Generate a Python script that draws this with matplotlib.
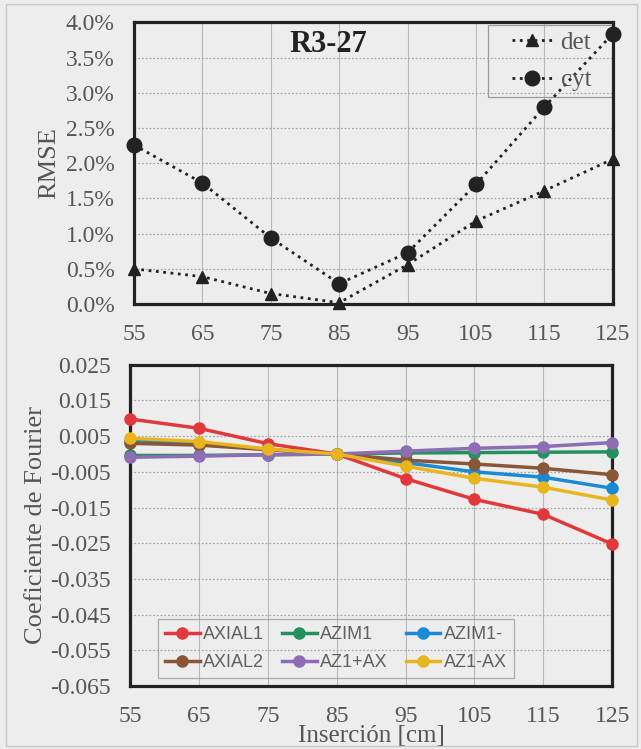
import matplotlib
matplotlib.use("Agg")
import matplotlib.pyplot as plt
from matplotlib.ticker import FuncFormatter

plt.rcParams['font.family'] = ['Liberation Serif', 'DejaVu Serif']
plt.rcParams['axes.unicode_minus'] = False

# datos
insercion = [55, 65, 75, 85, 95, 105, 115, 125]

rmse_det = [0.0050, 0.0039, 0.0015, 0.0002, 0.0056, 0.0118, 0.0161, 0.0206]
rmse_cyt = [0.0226, 0.0172, 0.0094, 0.0029, 0.0073, 0.0170, 0.0280, 0.0384]

axial1 = [0.0098, 0.0072, 0.0029, 0.0000, -0.0069, -0.0127, -0.0169, -0.0252]
azim1 = [-0.0004, -0.0004, -0.0002, 0.0000, 0.0003, 0.0004, 0.0005, 0.0006]
azim1m = [0.0037, 0.0030, 0.0013, 0.0000, -0.0024, -0.0050, -0.0065, -0.0096]
axial2 = [0.0030, 0.0025, 0.0012, 0.0000, -0.0017, -0.0028, -0.0040, -0.0058]
az1_ax_p = [-0.0009, -0.0006, -0.0002, 0.0000, 0.0008, 0.0016, 0.0021, 0.0032]
az1_ax_m = [0.0044, 0.0035, 0.0014, 0.0000, -0.0034, -0.0068, -0.0093, -0.0129]

series_names = ['AXIAL1', 'AZIM1', 'AZIM1-', 'AXIAL2', 'AZ1+AX', 'AZ1-AX']
series_values = [axial1, azim1, azim1m, axial2, az1_ax_p, az1_ax_m]
series_colors = ['#e2383c', '#23915f', '#1a8bd2', '#8a5638', '#8d6db3', '#e8b61c']

rmse_ticks = [0.0, 0.005, 0.010, 0.015, 0.020, 0.025, 0.030, 0.035, 0.040]
fourier_ticks = [0.025, 0.015, 0.005, -0.005, -0.015, -0.025, -0.035, -0.045, -0.055, -0.065]

bg = '#ededed'
tick_color = '#555555'

fig = plt.figure(figsize=(6.41, 7.49), dpi=100, facecolor=bg)

# marco exterior
fig.patches.append(plt.Rectangle((0.009, 0.004), 0.985, 0.991, transform=fig.transFigure,
                                 fill=False, edgecolor='#c8c8c8', linewidth=1.0))

ax1 = fig.add_axes([0.209, 0.594, 0.747, 0.376])
ax2 = fig.add_axes([0.203, 0.084, 0.752, 0.429])

for ax in (ax1, ax2):
    ax.set_facecolor(bg)
    for s in ax.spines.values():
        s.set_linewidth(2.3)
        s.set_color('#222222')
    ax.set_xlim(55, 125)
    ax.set_xticks(insercion)
    ax.grid(True, axis='x', color='#b8b8b8', linewidth=0.8, linestyle='-')
    ax.grid(True, axis='y', color='#a8a8a8', linewidth=0.9, linestyle=(0, (1.5, 1.5)))
    ax.set_axisbelow(True)
    ax.tick_params(axis='both', length=0, labelsize=17, labelcolor=tick_color)
    ax.tick_params(axis='y', pad=14)
    ax.tick_params(axis='x', pad=14)

# --- RMSE ---
ax1.plot(insercion, rmse_det, linestyle=':', color='#222222', linewidth=2.0,
         marker='^', markersize=9, label='det', clip_on=False, zorder=3)
ax1.plot(insercion, rmse_cyt, linestyle=':', color='#222222', linewidth=2.0,
         marker='o', markersize=10.5, label='cyt', clip_on=False, zorder=3)
ax1.set_ylim(0, 0.040)
ax1.set_yticks(rmse_ticks)
ax1.yaxis.set_major_formatter(FuncFormatter(lambda v, p: f'{v * 100:.1f}%'))
ax1.set_ylabel('RMSE', fontsize=19, color=tick_color, labelpad=4)
ax1.text(0.406, 0.92, 'R3-27', transform=ax1.transAxes, ha='center', va='center',
         fontsize=22, fontweight='bold', color='#222222')

# recuadro de la leyenda
ax1.add_patch(plt.Rectangle((0.739, 0.736), 0.261, 0.256, transform=ax1.transAxes,
                            fill=False, edgecolor='#9a9a9a', linewidth=0.9, zorder=2))
leg1 = ax1.legend(loc='center', bbox_to_anchor=(0.872, 0.862), fontsize=18,
                  frameon=False, handlelength=1.6, handletextpad=0.35,
                  labelspacing=0.6, borderpad=0.0)
for t in leg1.get_texts():
    t.set_color(tick_color)

# --- Coeficientes de Fourier ---
lines = []
for name, vals, col in zip(series_names, series_values, series_colors):
    ln, = ax2.plot(insercion, vals, color=col, linewidth=2.5, marker='o',
                   markersize=8, label=name, clip_on=False, zorder=3)
    lines.append(ln)
ax2.set_ylim(-0.065, 0.025)
ax2.set_yticks(fourier_ticks)
ax2.yaxis.set_major_formatter(FuncFormatter(lambda v, p: f'{v:.3f}'))
ax2.set_ylabel('Coeficiente de Fourier', fontsize=19, color=tick_color, labelpad=2)
ax2.set_xlabel('Inserción [cm]', fontsize=18, color=tick_color, labelpad=-1)

order = [0, 3, 1, 4, 2, 5]
leg2 = ax2.legend([lines[i] for i in order], [series_names[i] for i in order],
                  ncol=3, loc='lower left', bbox_to_anchor=(0.058, 0.025),
                  frameon=True, fancybox=False, facecolor='none', edgecolor='#9a9a9a',
                  prop={'family': 'Liberation Sans', 'size': 13},
                  handlelength=1.9, handletextpad=0.2, columnspacing=1.0,
                  labelspacing=0.6, borderpad=0.4, borderaxespad=0.0)
leg2.get_frame().set_linewidth(0.9)
for t in leg2.get_texts():
    t.set_color('#606060')

fig.savefig('out.png', dpi=100, facecolor=bg)
